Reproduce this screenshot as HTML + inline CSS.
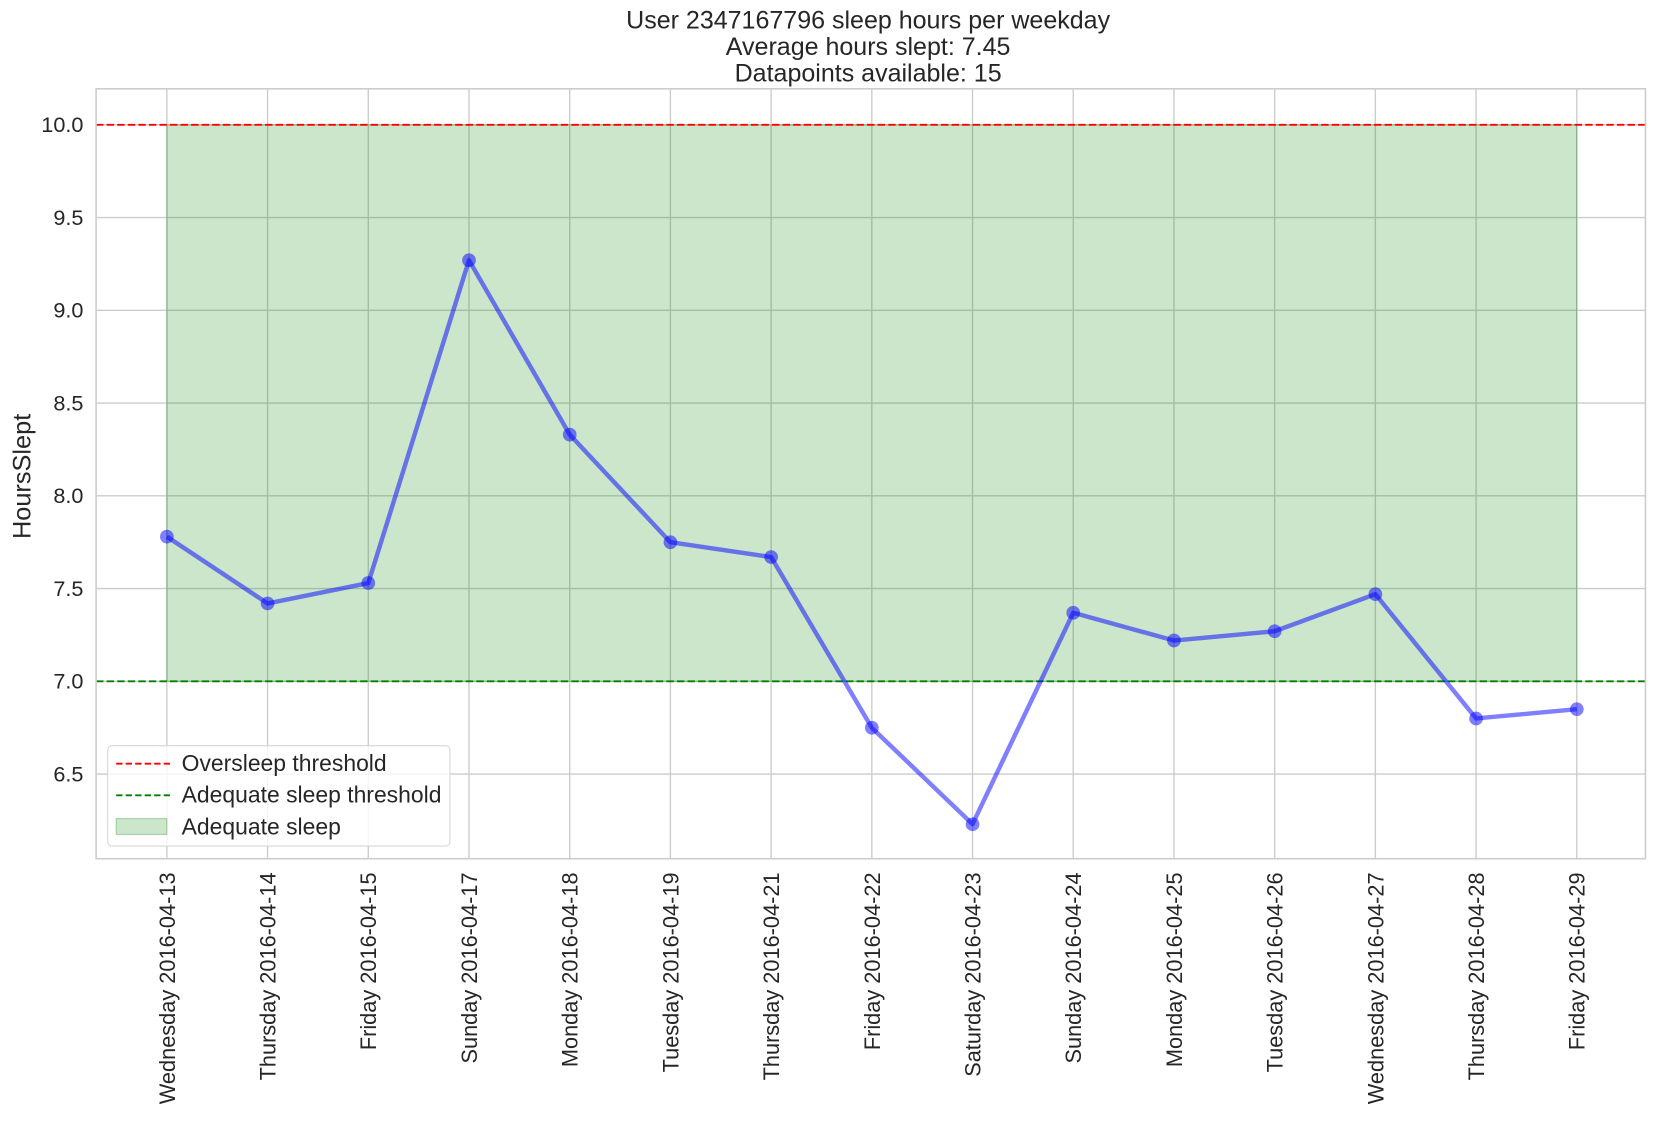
<!DOCTYPE html>
<html><head><meta charset="utf-8">
<style>
html,body{margin:0;padding:0;background:#fff;}
svg{display:block;font-family:"Liberation Sans",Arial,sans-serif;}
</style></head>
<body>
<svg id="chart" width="1656" height="1126" viewBox="0 0 1568 1066" xmlns="http://www.w3.org/2000/svg">
<rect width="1568" height="1066" fill="#fff"/>
<g id="title" fill="#262626" font-size="23.7" text-anchor="middle">
<text x="822" y="27">User 2347167796 sleep hours per weekday</text>
<text x="822" y="52">Average hours slept: 7.45</text>
<text x="822" y="77">Datapoints available: 15</text>
</g>
<text transform="translate(29,451) rotate(-90)" font-size="24" fill="#262626" text-anchor="middle">HoursSlept</text>
<g id="grid"></g>
<g id="fill"></g>
<g id="lines"></g>
<g id="series"></g>
<rect x="91" y="84" width="1467" height="729" fill="none" stroke="#cccccc" stroke-width="1.5"/>
<g id="ticks"></g>
<g id="legend">
<rect x="102" y="706" width="324" height="95" rx="4" fill="#fff" fill-opacity="0.8" stroke="#d6d6d6"/>
<g>
<line x1="110" y1="723" x2="162" y2="723" stroke="red" stroke-width="1.8" stroke-dasharray="6,3"/>
<text x="172" y="730" font-size="21.7" fill="#262626">Oversleep threshold</text></g>
<g>
<line x1="110" y1="753" x2="162" y2="753" stroke="green" stroke-width="1.8" stroke-dasharray="6,3"/>
<text x="172" y="760" font-size="21.7" fill="#262626">Adequate sleep threshold</text></g>
<g>
<rect x="110" y="775" width="48" height="15" fill="green" fill-opacity="0.2" stroke="green" stroke-opacity="0.3"/>
<text x="172" y="790" font-size="21.7" fill="#262626">Adequate sleep</text></g>
</g>
</svg>
<script>
const dates = ["Wednesday 2016-04-13","Thursday 2016-04-14","Friday 2016-04-15","Sunday 2016-04-17","Monday 2016-04-18","Tuesday 2016-04-19","Thursday 2016-04-21","Friday 2016-04-22","Saturday 2016-04-23","Sunday 2016-04-24","Monday 2016-04-25","Tuesday 2016-04-26","Wednesday 2016-04-27","Thursday 2016-04-28","Friday 2016-04-29"];
const hours = [7.78,7.42,7.53,9.27,8.33,7.75,7.67,6.75,6.23,7.37,7.22,7.27,7.47,6.80,6.85];
const yTicks = [6.5,7.0,7.5,8.0,8.5,9.0,9.5,10.0];
const overThreshold = 10.0;
const adequateThreshold = 7.0;

const NS="http://www.w3.org/2000/svg";
const L=91,R=1558,T=84,B=813;
const yMin=6.044,yMax=10.194;
const x0=158,x1=1493;
function xs(i){return x0+(x1-x0)*i/(dates.length-1);}
function ys(v){return B-(v-yMin)/(yMax-yMin)*(B-T);}
function mk(tag,attrs,parent){const e=document.createElementNS(NS,tag);for(const k in attrs)e.setAttribute(k,attrs[k]);parent.appendChild(e);return e;}
const grid=document.getElementById('grid'),fill=document.getElementById('fill'),lines=document.getElementById('lines'),series=document.getElementById('series'),ticks=document.getElementById('ticks');

yTicks.forEach(v=>{
  const g=mk('line',{x1:L,x2:R,y1:ys(v),y2:ys(v),stroke:'#cccccc','stroke-width':1.3},grid);
  
  
  const t=mk('text',{x:L-12,y:ys(v)+7,'font-size':20.5,fill:'#262626','text-anchor':'end'},ticks);
  t.textContent=v.toFixed(1);
  
  
});
dates.forEach((d,i)=>{
  const g=mk('line',{x1:xs(i),x2:xs(i),y1:T,y2:B,stroke:'#cccccc','stroke-width':1.3},grid);
  
  
  const t=mk('text',{transform:`translate(${xs(i)+7.5},${B+13}) rotate(-90)`,'font-size':20.6,fill:'#262626','text-anchor':'end'},ticks);
  t.textContent=d;
  
  
});
const area=mk('rect',{x:xs(0),y:ys(overThreshold),width:xs(dates.length-1)-xs(0),height:ys(adequateThreshold)-ys(overThreshold),fill:'green','fill-opacity':0.2,stroke:'green','stroke-opacity':0.3},fill);


const ov=mk('line',{x1:L,x2:R,y1:ys(overThreshold),y2:ys(overThreshold),stroke:'red','stroke-width':1.8,'stroke-dasharray':'7,3'},lines);


const ad=mk('line',{x1:L,x2:R,y1:ys(adequateThreshold),y2:ys(adequateThreshold),stroke:'green','stroke-width':1.8,'stroke-dasharray':'7,3'},lines);


const pl=mk('polyline',{points:hours.map((v,i)=>xs(i)+','+ys(v)).join(' '),fill:'none',stroke:'blue','stroke-opacity':0.5,'stroke-width':4.2,'stroke-linejoin':'round'},series);


hours.forEach((v,i)=>{
  const c=mk('circle',{cx:xs(i),cy:ys(v),r:6.5,fill:'blue','fill-opacity':0.5},series);
  
  
});
</script>
</body></html>
